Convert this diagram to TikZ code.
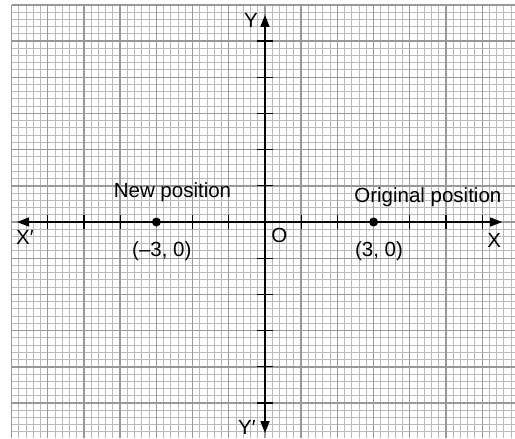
\documentclass[tikz,border=0pt]{standalone}
\usepackage{fontspec}
\setmainfont{Liberation Sans}
\usetikzlibrary{arrows.meta}
\begin{document}
\begin{tikzpicture}[x=36.2pt,y=36.2pt,
  finegrid/.style={draw=black!27,line width=1pt},
  majorgrid/.style={draw=black!40,line width=1.4pt},
  axis/.style={line width=1.5pt,-{Triangle[length=12pt,width=9pt]}},
  tickmark/.style={line width=1.2pt},
  lbl/.style={font=\fontsize{20.5}{24}\selectfont,inner sep=0pt},
  pt/.style={circle,fill=black,inner sep=0pt,minimum size=9pt}]
\useasboundingbox (-7.320,-5.967) rectangle (6.906,6.133);
\fill[white] (-7.320,-5.967) rectangle (6.906,6.133);
\foreach \i in {-35,...,34} \draw[finegrid] (\i/5,-5.967) -- (\i/5,6);
\foreach \j in {-29,...,30} \draw[finegrid] (-7,\j/5) -- (6.906,\j/5);
\foreach \i in {-7,...,6} \draw[majorgrid] (\i,-5.967) -- (\i,6);
\foreach \j in {-5,...,6} \draw[majorgrid] (-7,\j) -- (6.906,\j);
% axes
\coordinate (xl) at (-6.85,0);
\coordinate (xr) at (6.55,0);
\coordinate (yt) at (0,5.72);
\coordinate (yb) at (0,-5.83);
\coordinate (o) at (0,0);
\draw[axis] (o) -- (xr);
\draw[axis] (o) -- (xl);
\draw[axis] (o) -- (yt);
\draw[axis] (o) -- (yb);
\foreach \i in {-6,-5,-4,-2,-1,1,2,4,5,6} \draw[tickmark] (\i,-0.2) -- (\i,0.2);
\foreach \i in {-5,-4,-3,-2,-1,1,2,3,4,5} \draw[tickmark] (-0.21,\i) -- (0.21,\i);
% points
\node[pt] (newp) at (-3,0) {};
\node[pt] (origp) at (3,0) {};
% labels
\node[lbl] (lnew) at (-2.555,0.815) {New position};
\node[lbl] (lorig) at (4.50,0.69) {Original position};
\node[lbl] (cnew) at (-2.85,-0.80) {(–3, 0)};
\node[lbl] (corig) at (3.15,-0.80) {(3, 0)};
\node[lbl] (lo) at (0.40,-0.36) {O};
\node[lbl] (lxp) at (-6.63,-0.43) {X′};
\node[lbl] (lx) at (6.33,-0.50) {X};
\node[lbl] (ly) at (-0.39,5.57) {Y};
\node[lbl] (lyp) at (-0.50,-5.68) {Y′};
\end{tikzpicture}
\end{document}
